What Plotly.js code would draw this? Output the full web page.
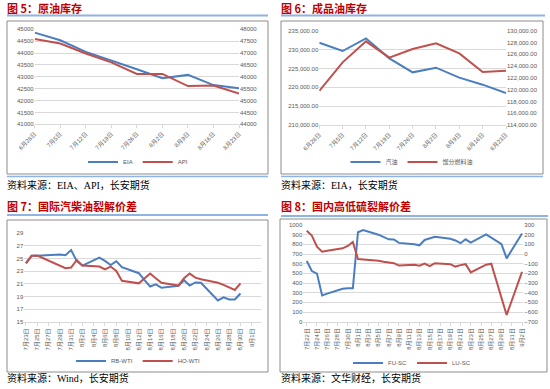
<!DOCTYPE html>
<html><head><meta charset="utf-8">
<script src="https://cdn.plot.ly/plotly-3.0.1.min.js"></script>
<style>html,body{margin:0;padding:0;background:#fff}#chart{width:550px;height:389px}</style>
</head><body><div id="chart"></div>
<script>
// ---- Chart 5: crude inventories (weekly) ----
const weeks = ['6月28日','7月5日','7月12日','7月19日','7月26日','8月2日','8月9日','8月16日','8月23日'];
const eia = [44860,44540,44050,43700,43320,42940,43080,42650,42520];
const api = [47590,47400,46980,46610,46120,46120,45610,45630,45300];
// ---- Chart 6: product inventories ----
const gasoline = [231820,229610,232970,227670,223960,225200,222550,220690,218480];
const distillate = [119770,124630,128190,125420,126890,127850,126150,122990,123210];
// ---- Chart 7: international cracks ----
const dates7 = ['2024-07-23','2024-07-24','2024-07-25','2024-07-26','2024-07-29','2024-07-30','2024-07-31','2024-08-01','2024-08-02',
  '2024-08-05','2024-08-06','2024-08-07','2024-08-08','2024-08-09','2024-08-12','2024-08-13','2024-08-14','2024-08-15','2024-08-16',
  '2024-08-19','2024-08-20','2024-08-21','2024-08-22','2024-08-23','2024-08-26','2024-08-27','2024-08-28','2024-08-29','2024-08-30'];
const rbWti = [24.3,25.45,25.45,25.5,25.65,25.55,26.35,24.6,23.9,25.15,24.65,24.0,24.6,23.65,22.7,21.6,20.6,20.95,20.4,20.7,21.6,20.75,21.25,21.2,18.4,18.9,18.55,18.55,19.5];
const hoWti = [24.25,25.45,25.5,25.1,23.9,23.5,23.6,24.8,23.9,23.75,23.3,23.75,23.05,21.5,21.1,21.9,22.65,21.9,21.2,20.75,21.9,22.65,22.0,21.75,21.2,20.85,20.45,20.05,21.1];
const ticks7 = ['2024-07-23','2024-07-25','2024-07-27','2024-07-29','2024-07-31','2024-08-02','2024-08-04','2024-08-06','2024-08-08','2024-08-10',
  '2024-08-12','2024-08-14','2024-08-16','2024-08-18','2024-08-20','2024-08-22','2024-08-24','2024-08-26','2024-08-28','2024-08-30','2024-09-01'];
const labels7 = ['7月23日','7月25日','7月27日','7月29日','7月31日','8月2日','8月4日','8月6日','8月8日','8月10日','8月12日','8月14日','8月16日',
  '8月18日','8月20日','8月22日','8月24日','8月26日','8月28日','8月30日','9月1日'];
// ---- Chart 8: domestic high/low sulphur cracks ----
const dates8 = ['2024-07-22','2024-07-23','2024-07-24','2024-07-25','2024-07-26','2024-07-29','2024-07-30','2024-07-31','2024-08-01','2024-08-02',
  '2024-08-05','2024-08-06','2024-08-07','2024-08-08','2024-08-09','2024-08-12','2024-08-13','2024-08-14','2024-08-15','2024-08-16',
  '2024-08-19','2024-08-20','2024-08-21','2024-08-22','2024-08-23','2024-08-26','2024-08-27','2024-08-28','2024-08-29','2024-08-30','2024-09-02'];
const fuSc = [628,524,497,272,290,340,345,345,925,948,900,875,852,850,815,800,790,845,865,879,858,840,812,852,818,903,870,838,803,655,912];
const luSc = [241,190,76,24,33,59,83,125,-52,-55,-70,-80,-90,-95,-120,-110,-120,-100,-125,-95,-105,-130,-115,-105,-190,-110,-100,-280,-450,-630,-185];
const ticks8 = ['2024-07-22','2024-07-24','2024-07-26','2024-07-28','2024-07-30','2024-08-01','2024-08-03','2024-08-05','2024-08-07','2024-08-09','2024-08-11',
  '2024-08-13','2024-08-15','2024-08-17','2024-08-19','2024-08-21','2024-08-23','2024-08-25','2024-08-27','2024-08-29','2024-08-31','2024-09-02'];
const labels8 = ['7月22日','7月24日','7月26日','7月28日','7月30日','8月1日','8月3日','8月5日','8月7日','8月9日','8月11日','8月13日','8月15日',
  '8月17日','8月19日','8月21日','8月23日','8月25日','8月27日','8月29日','8月31日','9月2日'];

const W = 550, H = 389;
const px = x => x / W, py = y => 1 - y / H;
const BLUE = '#4A7EC0', RED = '#C0504D', GRID = '#D9D9D9', TXT = '#595959';
const FONT = 'Liberation Sans, Noto Sans CJK SC, sans-serif';
const tf = {size: 6, color: TXT, family: FONT};

function ln(color){ return {color: color, width: 2}; }
const traces = [
  {x: weeks, y: eia, name: 'EIA', type: 'scatter', mode: 'lines', line: ln(BLUE), xaxis: 'x', yaxis: 'y', legend: 'legend'},
  {x: weeks, y: api, name: 'API', type: 'scatter', mode: 'lines', line: ln(RED), xaxis: 'x', yaxis: 'y2', legend: 'legend'},
  {x: weeks, y: gasoline, name: '汽油', type: 'scatter', mode: 'lines', line: ln(BLUE), xaxis: 'x2', yaxis: 'y3', legend: 'legend2'},
  {x: weeks, y: distillate, name: '馏分燃料油', type: 'scatter', mode: 'lines', line: ln(RED), xaxis: 'x2', yaxis: 'y4', legend: 'legend2'},
  {x: dates7, y: rbWti, name: 'RB-WTI', type: 'scatter', mode: 'lines', line: ln(BLUE), xaxis: 'x3', yaxis: 'y5', legend: 'legend3'},
  {x: dates7, y: hoWti, name: 'HO-WTI', type: 'scatter', mode: 'lines', line: ln(RED), xaxis: 'x3', yaxis: 'y5', legend: 'legend3'},
  {x: dates8, y: fuSc, name: 'FU-SC', type: 'scatter', mode: 'lines', line: ln(BLUE), xaxis: 'x4', yaxis: 'y6', legend: 'legend4'},
  {x: dates8, y: luSc, name: 'LU-SC', type: 'scatter', mode: 'lines', line: ln(RED), xaxis: 'x4', yaxis: 'y7', legend: 'legend4'}
];

const baseX = {showgrid: false, showline: true, linecolor: GRID, linewidth: 1, ticks: 'outside', ticklen: 3, tickcolor: GRID,
  tickfont: tf, automargin: false, zeroline: false, fixedrange: true};
const baseY = {showgrid: true, gridcolor: GRID, gridwidth: 1, showline: false, ticks: '', tickfont: tf, automargin: false,
  zeroline: false, fixedrange: true};
const rightY = Object.assign({}, baseY, {showgrid: false, side: 'right'});

function leg(x, y){
  return {x: x, y: y, xanchor: 'center', yanchor: 'middle', orientation: 'h', font: {size: 6, color: TXT, family: FONT},
    itemwidth: 30, bgcolor: 'rgba(0,0,0,0)', borderwidth: 0, tracegroupgap: 0};
}

const layout = {
  width: W, height: H, margin: {l: 0, r: 0, t: 0, b: 0}, paper_bgcolor: '#fff', plot_bgcolor: 'rgba(0,0,0,0)',
  showlegend: true, font: {family: FONT},
  // chart 5
  xaxis: Object.assign({}, baseX, {domain: [px(34.7), px(239)], anchor: 'y', type: 'category', range: [0, 8], tickangle: -45}),
  yaxis: Object.assign({}, baseY, {domain: [py(124.3), py(29.3)], anchor: 'x', range: [41000, 45000], dtick: 500, tickformat: 'd'}),
  yaxis2: Object.assign({}, rightY, {overlaying: 'y', anchor: 'x', range: [44000, 48000], dtick: 500, tickformat: 'd'}),
  // chart 6
  xaxis2: Object.assign({}, baseX, {domain: [px(319.3), px(506)], anchor: 'y3', type: 'category', range: [0, 8], tickangle: -45}),
  yaxis3: Object.assign({}, baseY, {domain: [py(125), py(30.7)], anchor: 'x2', range: [210000, 235000], dtick: 5000, tickformat: ',.2f'}),
  yaxis4: Object.assign({}, rightY, {overlaying: 'y3', anchor: 'x2', range: [114000, 130000], dtick: 2000, tickformat: ',.2f'}),
  // chart 7
  xaxis3: Object.assign({}, baseX, {domain: [px(24.3), px(260.7)], anchor: 'y5', type: 'date',
    range: ['2024-07-22 17:00', '2024-09-02 14:00'], tickmode: 'array', tickvals: ticks7, ticktext: labels7, tickangle: -90}),
  yaxis5: Object.assign({}, baseY, {domain: [py(322), py(233.3)], anchor: 'x3', range: [15, 29], tick0: 15, dtick: 2}),
  // chart 8
  xaxis4: Object.assign({}, baseX, {domain: [px(303.3), px(523.3)], anchor: 'y6', type: 'date',
    range: ['2024-07-21 08:00', '2024-09-02 06:00'], tickmode: 'array', tickvals: ticks8, ticktext: labels8, tickangle: -90}),
  yaxis6: Object.assign({}, baseY, {domain: [py(321.7), py(225)], anchor: 'x4', range: [0, 1000], dtick: 100}),
  yaxis7: Object.assign({}, rightY, {overlaying: 'y6', anchor: 'x4', range: [-700, 300], dtick: 100}),
  legend: leg(px(138), py(162)),
  legend2: leg(px(412), py(162)),
  legend3: leg(px(138), py(361)),
  legend4: leg(px(412), py(363)),
  shapes: [],
  annotations: []
};

const BOX = '#8C8C8C', RULE = '#8DB4E2';
function rect(x0, y0, x1, y1){ layout.shapes.push({type: 'rect', xref: 'paper', yref: 'paper', x0: px(x0), x1: px(x1), y0: py(y1), y1: py(y0), line: {color: BOX, width: 1}, fillcolor: 'rgba(0,0,0,0)', layer: 'below'}); }
function hline(x0, x1, y, w){ layout.shapes.push({type: 'line', xref: 'paper', yref: 'paper', x0: px(x0), x1: px(x1), y0: py(y), y1: py(y), line: {color: RULE, width: w}}); }
rect(7, 21, 268, 174); rect(281, 21, 543, 174); rect(7, 220, 268, 372); rect(280, 219, 547, 372);
hline(7, 268, 15.5, 2); hline(281, 545, 15.5, 2); hline(7, 268, 215, 2); hline(281, 548, 216, 2);
hline(7, 268, 176.5, 1.5); hline(281, 543, 176.5, 1.5);

function title(x, y, t){ layout.annotations.push({xref: 'paper', yref: 'paper', x: px(x), y: py(y), xanchor: 'left', yanchor: 'middle', showarrow: false,
  text: '<b>' + t + '</b>', font: {size: 11, color: '#C00000', family: 'Noto Sans CJK SC, sans-serif'}}); }
function source(x, y, t){ layout.annotations.push({xref: 'paper', yref: 'paper', x: px(x), y: py(y), xanchor: 'left', yanchor: 'middle', showarrow: false,
  text: t, font: {size: 10, color: '#000', family: 'Liberation Serif, Noto Sans CJK SC, serif'}}); }
title(5, 8, '图 5：原油库存'); title(279, 8, '图 6：成品油库存'); title(5, 206, '图 7：国际汽柴油裂解价差'); title(279, 206, '图 8：国内高低硫裂解价差');
source(5, 185, '资料来源：EIA、API，长安期货'); source(279, 185, '资料来源：EIA，长安期货');
source(5, 378, '资料来源：Wind，长安期货'); source(279, 378, '资料来源：文华财经，长安期货');

Plotly.newPlot('chart', traces, layout, {displayModeBar: false, staticPlot: true});
</script></body></html>
